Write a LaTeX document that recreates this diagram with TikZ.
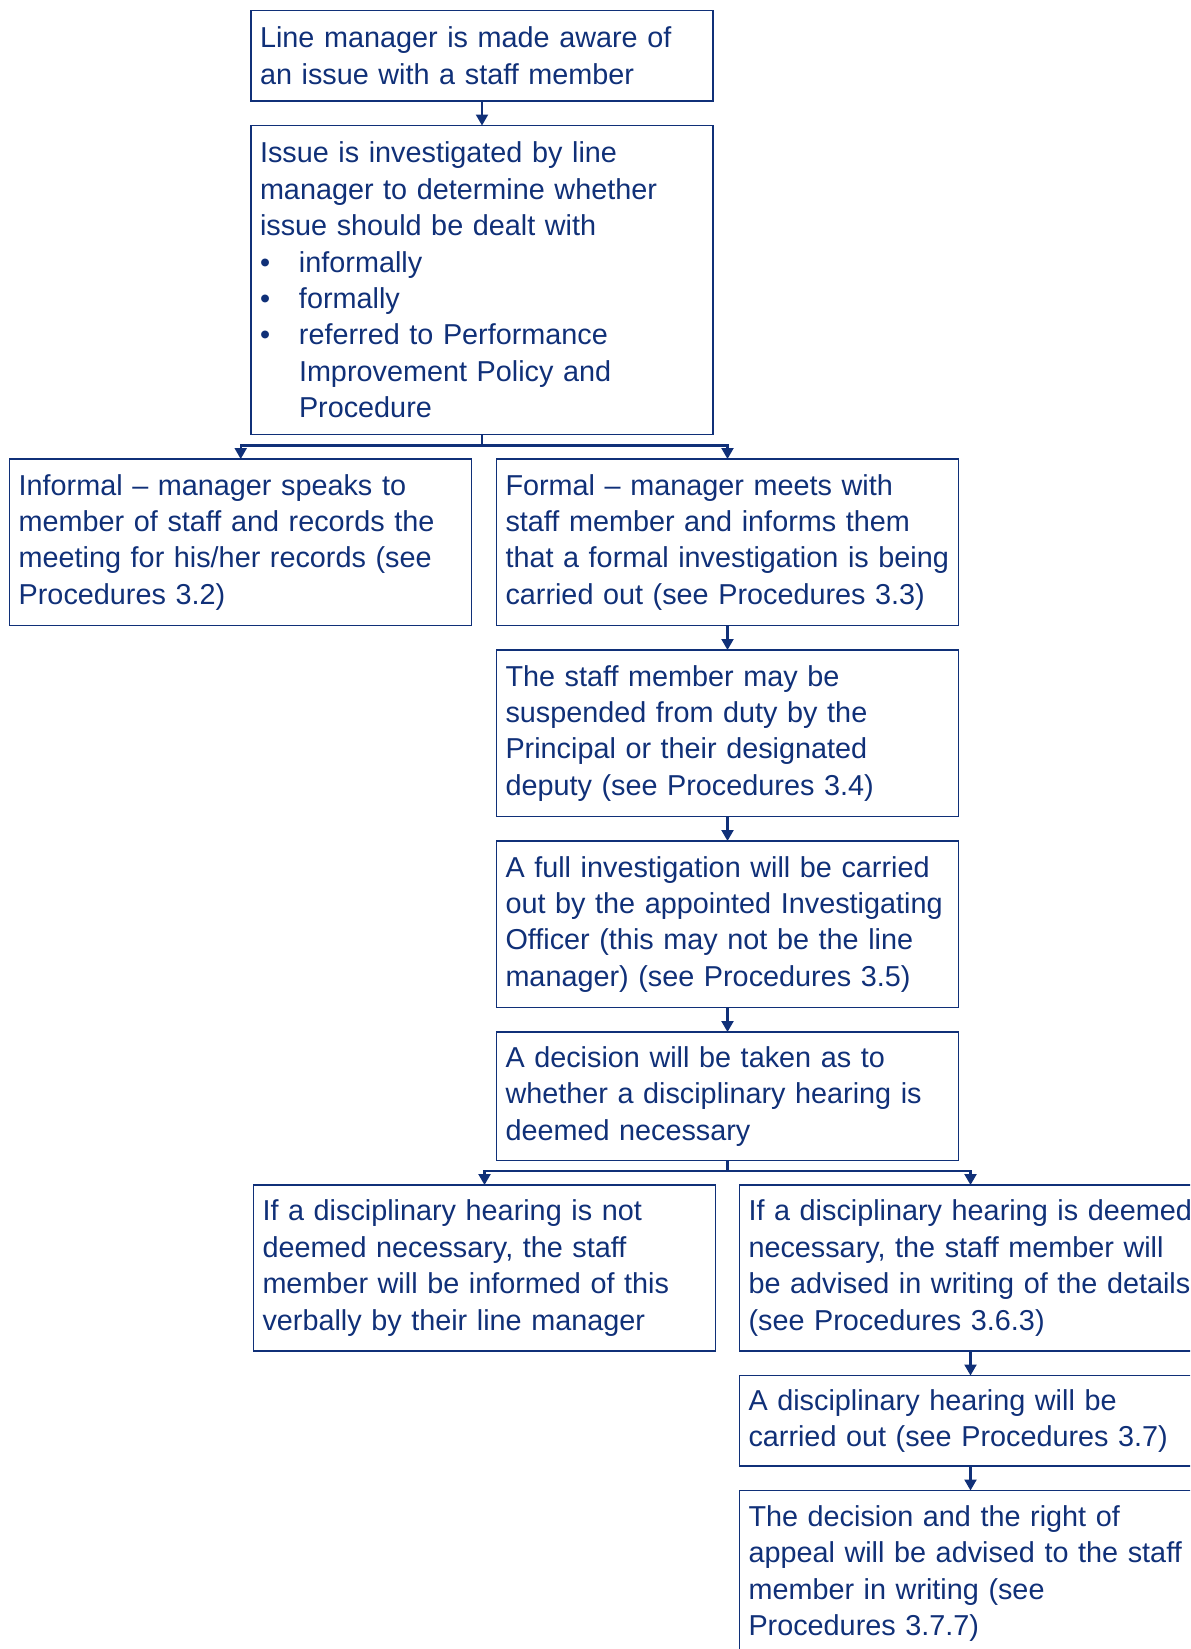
\documentclass[tikz,border=0pt]{standalone}
\usepackage{fontspec}
\setmainfont{Liberation Sans}
\usetikzlibrary{positioning,arrows.meta}
\definecolor{navy}{RGB}{16,48,120}

\begin{document}
\begin{tikzpicture}[x=0.5pt, y=-0.5pt, node distance=12.25pt, >={Triangle[width=6pt,length=5.5pt]},
    main/.style = {draw=navy, line width=0.65pt, text=navy, align=left, text width=222pt,
      inner xsep=4.5pt, inner ysep=2pt, outer sep=0pt, font=\fontsize{14.4pt}{18.2pt}\selectfont},
    link/.style = {draw=navy, line width=1.1pt}]
      \clip (0,0) rectangle (1190,1649);
      \node[main, anchor=north, minimum height=45.25pt] (1) at (482,10.5) {Line manager is made aware of\\an issue with a staff member};
      \node[main, minimum height=154.5pt] (2) [below=of 1] {Issue is investigated by line\\manager to determine whether\\issue should be dealt with\\\makebox[19.5pt][l]{•}informally\\\makebox[19.5pt][l]{•}formally\\\makebox[19.5pt][l]{•}referred to Performance\\\hspace*{19.5pt}Improvement Policy and\\\hspace*{19.5pt}Procedure};
      \node[main, minimum height=83.25pt] (3) [below=of 2, xshift=-120.65pt] {Informal – manager speaks to\\member of staff and records the\\meeting for his/her records (see\\Procedures 3.2)};
      \node[main, minimum height=83.25pt] (4) [below=of 2, xshift=122.75pt] {Formal – manager meets with\\staff member and informs them\\\mbox{that a formal investigation is being}\\carried out (see Procedures 3.3)};
      \node[main, minimum height=83.25pt] (5) [below=of 4] {The staff member may be\\suspended from duty by the\\Principal or their designated\\deputy (see Procedures 3.4)};
      \node[main, minimum height=83.25pt] (6) [below=of 5] {A full investigation will be carried\\\mbox{out by the appointed Investigating}\\Officer (this may not be the line\\manager) (see Procedures 3.5)};
      \node[main, minimum height=64.25pt] (7) [below=of 6] {A decision will be taken as to\\whether a disciplinary hearing is\\deemed necessary};
      \node[main, minimum height=83pt] (8) [below=of 7, xshift=-121.5pt] {If a disciplinary hearing is not\\deemed necessary, the staff\\member will be informed of this\\verbally by their line manager};
      \node[main, minimum height=83pt] (9) [below=of 7, xshift=121.5pt] {\mbox{If a disciplinary hearing is deemed}\\necessary, the staff member will\\\mbox{be advised in writing of the details}\\(see Procedures 3.6.3)};
      \node[main, minimum height=45.25pt] (10) [below=of 9] {A disciplinary hearing will be\\carried out (see Procedures 3.7)};
      \node[main, minimum height=83pt] (11) [below=of 10] {The decision and the right of\\appeal will be advised to the staff\\member in writing (see\\Procedures 3.7.7)};
      \draw[link, ->] (1) -- (2);
      \draw[link, ->] (2.south) -- ++(0,11) -| (3.north);
      \draw[link, ->] (2.south) -- ++(0,11) -| (4.north);
      \draw[link, ->] (4) -- (5);
      \draw[link, ->] (5) -- (6);
      \draw[link, ->] (6) -- (7);
      \draw[link, ->] (7.south) -- ++(0,10.5) -| (8.north);
      \draw[link, ->] (7.south) -- ++(0,10.5) -| (9.north);
      \draw[link, ->] (9) -- (10);
      \draw[link, ->] (10) -- (11);
  \end{tikzpicture}
\end{document}
